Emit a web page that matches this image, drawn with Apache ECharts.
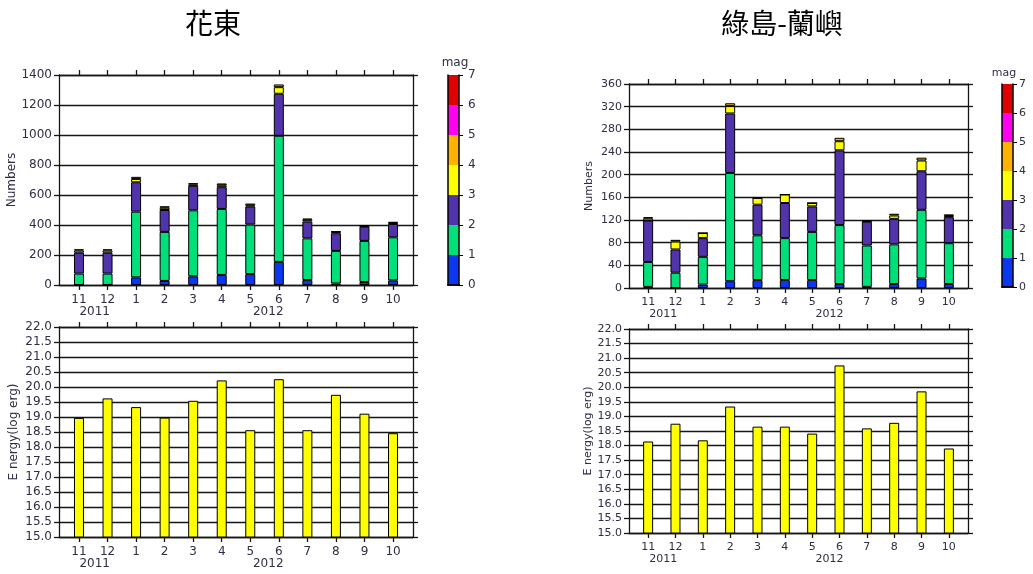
<!DOCTYPE html>
<html><head><meta charset="utf-8">
<script src="https://cdn.jsdelivr.net/npm/echarts@6/dist/echarts.min.js"></script>
<style>html,body{margin:0;padding:0;background:#fff}#c{width:1033px;height:574px}</style>
</head><body><div id="c"></div>
<script>
// ---------- data ----------
const months = ['11','12','1','2','3','4','5','6','7','8','9','10'];
const years = ['2011','2012'];
const magTicks = ['0','1','2','3','4','5','6','7'];
const magColors = ['#0a37f0','#00e07a','#5133ab','#ffff00','#ffb300','#ff00f0','#e00000'];

// 花東 counts per magnitude bin (0-1, 1-2, 2-3, 3-4, 4-5)
const hdMag0 = [0, 0, 51, 27, 58, 67, 73, 154, 33, 10, 20, 31];
const hdMag1 = [76, 76, 438, 327, 440, 440, 330, 841, 278, 217, 274, 287];
const hdMag2 = [139, 139, 196, 146, 163, 145, 120, 280, 112, 118, 95, 89];
const hdMag3 = [15, 15, 22, 15, 10, 13, 8, 44, 12, 9, 5, 8];
const hdMag4 = [8, 8, 14, 10, 8, 12, 12, 18, 8, 4, 2, 5];
const hdEnergy = [18.97, 19.62, 19.33, 18.98, 19.54, 20.22, 18.56, 20.26, 18.56, 19.74, 19.11, 18.46];

// 綠島-蘭嶼 counts per magnitude bin
const glMag0 = [2, 0, 6, 12, 14, 14, 14, 7, 2, 7, 17, 7];
const glMag1 = [44, 27, 49, 191, 79, 74, 85, 104, 73, 70, 121, 72];
const glMag2 = [73, 41, 33, 105, 54, 62, 45, 132, 42, 45, 68, 46];
const glMag3 = [4, 14, 9, 13, 12, 15, 6, 16, 1, 6, 19, 2];
const glMag4 = [2, 3, 0, 5, 0, 0, 0, 6, 2, 3, 5, 3];
const glEnergy = [18.14, 18.75, 18.18, 19.34, 18.65, 18.65, 18.41, 20.75, 18.59, 18.78, 19.86, 17.90];

// ---------- layout / style ----------
const LINE = {color:'#151515', width:1.3};
const TXT = '#2e2e44';
const FONT = 'DejaVu Sans';
const monthIdx = months.map((m,i)=>i);
const yearPos = [0.55, 6.63];
const XMIN = -0.7, XMAX = 11.7;

const grid = [], xAxis = [], yAxis = [], series = [];

function panel(o){
  // frame grid: axes, ticks, labels, grid lines
  const gi = grid.length;
  grid.push({left:o.left, top:o.top, width:o.width, height:o.height});
  const xCommon = {gridIndex:gi, type:'value', min:XMIN, max:XMAX, splitLine:{show:false}};
  xAxis.push(Object.assign({}, xCommon, {position:'bottom',
    axisLine:{show:true, onZero:false, lineStyle:LINE},
    axisTick:{show:true, customValues:monthIdx, length:5, lineStyle:LINE},
    axisLabel:{show:true, customValues:monthIdx, formatter:v=>months[Math.round(v)], margin:o.lm, fontSize:o.fs, color:TXT, fontFamily:FONT}}));
  xAxis.push(Object.assign({}, xCommon, {position:'top',
    axisLine:{show:true, onZero:false, lineStyle:LINE},
    axisTick:{show:true, customValues:monthIdx, length:5, lineStyle:LINE},
    axisLabel:{show:false}}));
  xAxis.push(Object.assign({}, xCommon, {position:'bottom',
    axisLine:{show:false}, axisTick:{show:false},
    axisLabel:{show:true, customValues:yearPos, formatter:v=>(v<3?years[0]:years[1]), margin:o.ym, fontSize:o.fs, color:TXT, fontFamily:FONT}}));
  const yCommon = {gridIndex:gi, type:'value', min:o.ymin, max:o.ymax, interval:o.yint};
  yAxis.push(Object.assign({}, yCommon, {position:'left',
    name:o.name, nameLocation:'middle', nameGap:o.ng, nameTextStyle:{fontSize:o.fs, color:TXT, fontFamily:FONT},
    axisLine:{show:true, onZero:false, lineStyle:LINE},
    axisTick:{show:true, length:5, lineStyle:LINE},
    axisLabel:{margin:7, fontSize:o.fs, color:TXT, fontFamily:FONT, formatter:o.fmt},
    splitLine:{show:true, lineStyle:LINE}}));
  yAxis.push(Object.assign({}, yCommon, {position:'right',
    axisLine:{show:true, onZero:false, lineStyle:LINE},
    axisTick:{show:true, length:5, lineStyle:LINE},
    axisLabel:{show:false}, splitLine:{show:false}}));

  // data grid: category axis matching the padded frame range
  const span = XMAX - XMIN;
  const di = grid.length;
  grid.push({left:o.left + o.width*(-0.5 - XMIN)/span, top:o.top,
             width:o.width*months.length/span, height:o.height});
  const xb = xAxis.length;
  xAxis.push({gridIndex:di, type:'category', data:months, show:false});
  const yb = yAxis.length;
  yAxis.push({gridIndex:di, type:'value', min:o.ymin, max:o.ymax, interval:o.yint, show:false, splitLine:{show:false}});
  o.stacks.forEach((arr,k)=>{
    series.push({type:'bar', xAxisIndex:xb, yAxisIndex:yb, stack:o.stackName, barWidth:10,
      data:arr, itemStyle:{color:o.colors[k], borderColor:'#000', borderWidth:1},
      silent:true, clip:true, z:3});
  });
}

function colorbar(o){
  const gi = grid.length;
  grid.push({left:o.left, top:o.top, width:o.width, height:o.height});
  const xb = xAxis.length;
  xAxis.push({gridIndex:gi, type:'category', data:['m'], position:'bottom', z:5,
    axisLine:{show:true, lineStyle:{color:'#000', width:1.5}}, axisTick:{show:false}, axisLabel:{show:false}});
  xAxis.push({gridIndex:gi, type:'category', data:['m'], position:'top', z:5,
    axisLine:{show:true, lineStyle:{color:'#000', width:1.5}}, axisTick:{show:false}, axisLabel:{show:false}});
  const yb = yAxis.length;
  yAxis.push({gridIndex:gi, type:'value', min:0, max:7, interval:1, position:'right', z:5,
    axisLine:{show:true, lineStyle:{color:'#000', width:1.5}},
    axisTick:{show:true, length:4, lineStyle:{color:'#000', width:1}},
    axisLabel:{margin:o.lm, fontSize:o.fs, color:TXT, fontFamily:FONT, formatter:v=>magTicks[Math.round(v)]},
    splitLine:{show:false}});
  yAxis.push({gridIndex:gi, type:'value', min:0, max:7, interval:1, position:'left', z:5,
    axisLine:{show:true, lineStyle:{color:'#000', width:1.5}}, axisTick:{show:false}, axisLabel:{show:false}, splitLine:{show:false}});
  magColors.forEach((c,k)=>{
    series.push({type:'bar', xAxisIndex:xb, yAxisIndex:yb, stack:'cb'+gi, barWidth:'100%',
      data:[1], itemStyle:{color:c}, silent:true});
  });
}

const stackColors = magColors.slice(0,5);
const intFmt = v => String(v);
panel({left:59, top:75, width:354, height:210, ymin:0, ymax:1400, yint:200, fs:12, lm:9, ym:21, fmt:intFmt,
  name:'Numbers', ng:35, stacks:[hdMag0,hdMag1,hdMag2,hdMag3,hdMag4], colors:stackColors, stackName:'hd'});
panel({left:59, top:327, width:354, height:210, ymin:15, ymax:22, yint:0.5, fs:12, lm:9, ym:21,
  name:'E nergy(log erg)', ng:39, fmt:v=>v.toFixed(1), stacks:[hdEnergy], colors:['#ffff00'], stackName:'hde'});
panel({left:629, top:84, width:339, height:204, ymin:0, ymax:360, yint:40, fs:11, lm:9, ym:21, fmt:intFmt,
  name:'Numbers', ng:34, stacks:[glMag0,glMag1,glMag2,glMag3,glMag4], colors:stackColors, stackName:'gl'});
panel({left:629, top:329, width:339, height:204, ymin:15, ymax:22, yint:0.5, fs:11, lm:9, ym:21,
  name:'E nergy(log erg)', ng:34, fmt:v=>v.toFixed(1), stacks:[glEnergy], colors:['#ffff00'], stackName:'gle'});
colorbar({left:448, top:75, width:11, height:210, fs:12, lm:9});
colorbar({left:1002, top:84, width:11, height:203, fs:11, lm:6});

const chart = echarts.init(document.getElementById('c'), null, {renderer:'canvas'});
chart.setOption({
  animation:false,
  backgroundColor:'#ffffff',
  textStyle:{fontFamily:FONT},
  grid, xAxis, yAxis, series,
  graphic:[
    {type:'text', x:213, y:23, style:{text:'花東', font:'28px "Noto Sans CJK TC"', fill:'#000', align:'center', verticalAlign:'middle'}},
    {type:'text', x:782, y:23, style:{text:'綠島-蘭嶼', font:'28px "Noto Sans CJK TC"', fill:'#000', align:'center', verticalAlign:'middle'}},
    {type:'text', x:455, y:63, style:{text:'mag', font:'12px "DejaVu Sans"', fill:TXT, align:'center', verticalAlign:'middle'}},
    {type:'text', x:1004, y:73, style:{text:'mag', font:'11px "DejaVu Sans"', fill:TXT, align:'center', verticalAlign:'middle'}}
  ]
});
</script></body></html>
